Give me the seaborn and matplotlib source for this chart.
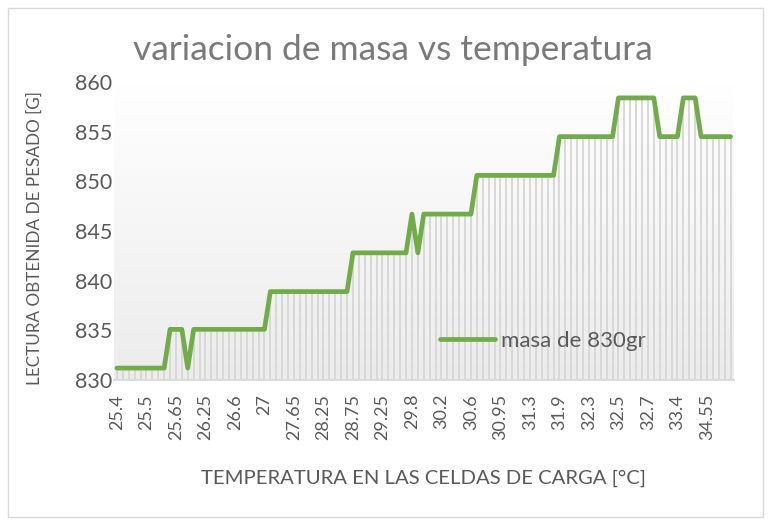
import numpy as np
import matplotlib
matplotlib.use("Agg")
import matplotlib.pyplot as plt
import seaborn as sns
from matplotlib.patches import Rectangle

# Load-cell reading (g) for each temperature sample
masa = [
    831.2, 831.2, 831.2, 831.2, 831.2, 831.2, 831.2, 831.2, 831.2,
    835.1, 835.1, 835.1,
    831.2,
    835.1, 835.1, 835.1, 835.1, 835.1, 835.1, 835.1, 835.1, 835.1, 835.1, 835.1, 835.1, 835.1,
    838.9, 838.9, 838.9, 838.9, 838.9, 838.9, 838.9, 838.9, 838.9, 838.9, 838.9, 838.9, 838.9, 838.9,
    842.8, 842.8, 842.8, 842.8, 842.8, 842.8, 842.8, 842.8, 842.8, 842.8,
    846.7,
    842.8,
    846.7, 846.7, 846.7, 846.7, 846.7, 846.7, 846.7, 846.7, 846.7,
    850.6, 850.6, 850.6, 850.6, 850.6, 850.6, 850.6, 850.6, 850.6, 850.6, 850.6, 850.6, 850.6, 850.6,
    854.5, 854.5, 854.5, 854.5, 854.5, 854.5, 854.5, 854.5, 854.5, 854.5,
    858.4, 858.4, 858.4, 858.4, 858.4, 858.4, 858.4,
    854.5, 854.5, 854.5, 854.5,
    858.4, 858.4, 858.4,
    854.5, 854.5, 854.5, 854.5, 854.5, 854.5,
]

# Temperature labels shown on the category axis (every fifth sample)
temp_labels = ["25.4", "25.5", "25.65", "26.25", "26.6", "27", "27.65", "28.25",
               "28.75", "29.25", "29.8", "30.2", "30.6", "30.95", "31.3", "31.9",
               "32.3", "32.5", "32.7", "33.4", "34.55"]
label_step = 5

y_ticks = [830, 835, 840, 845, 850, 855, 860]

sns.set_theme(style="white")
FONT = ["Lato", "DejaVu Sans"]
plt.rcParams["font.family"] = FONT

GREEN = "#70ad47"
TXT = "#595959"

pos = np.arange(len(masa))
df = {"pos": pos, "masa": masa}

W, H = 771, 525
fig = plt.figure(figsize=(W / 100, H / 100), dpi=100)
ax = fig.add_axes([114 / W, 1 - 380 / H, 619.5 / W, 298 / H])

# chart border
fig.patches.append(Rectangle((8 / W, 8 / H), 755 / W, 509 / H,
                             transform=fig.transFigure, fill=False,
                             edgecolor="#d9d9d9", lw=1.0))

x0, x1 = -0.5, len(masa) - 0.5
ax.set_xlim(x0, x1)
ax.set_ylim(830, 860)

# plot-area gradient (white at top, light grey at bottom)
grad = np.linspace(1.0, 0.0, 256).reshape(-1, 1)
cmap = matplotlib.colors.LinearSegmentedColormap.from_list("bg", ["#ececec", "#ffffff"])
ax.imshow(grad, cmap=cmap, aspect="auto", extent=(x0, x1, 830, 860),
          origin="upper", zorder=0, vmin=0, vmax=1)

# vertical stripe fill under the series
ax.vlines(pos, 830, masa, color="#d6d6d6", lw=1.3, zorder=1)

sns.lineplot(data=df, x="pos", y="masa", ax=ax, color=GREEN, lw=3.4,
             label="masa de 830gr", zorder=3)

for s in ["top", "right", "left"]:
    ax.spines[s].set_visible(False)
ax.spines["bottom"].set_color("#d9d9d9")
ax.spines["bottom"].set_linewidth(1.3)

ax.set_yticks(y_ticks)
ax.set_yticklabels([str(v) for v in y_ticks], fontsize=15.5, color=TXT)
ax.set_xticks(pos[::label_step])
ax.set_xticklabels(temp_labels, rotation=90, fontsize=13, color=TXT)
ax.tick_params(axis="y", length=0, pad=1)
ax.tick_params(axis="x", length=0, pad=10)
ax.set_xlabel("")
ax.set_ylabel("")

fig.text(423 / W, 1 - 478 / H, "TEMPERATURA EN LAS CELDAS DE CARGA [°C]",
         ha="center", va="center", fontsize=14.6, color=TXT)
fig.text(35 / W, 1 - 238 / H, "LECTURA OBTENIDA DE PESADO [G]", rotation=90,
         ha="center", va="center", fontsize=12.3, color=TXT)

fig.text(393 / W, 1 - 50 / H, "variacion de masa vs temperatura", ha="center",
         va="center", fontsize=25.5, color="#7a7a7a")

leg = ax.legend(loc="center left", bbox_to_anchor=(0.526, 0.131), frameon=False,
                fontsize=16, handlelength=2.5, handletextpad=0.25,
                borderpad=0, borderaxespad=0)
for t in leg.get_texts():
    t.set_color(TXT)

fig.savefig("out.png", dpi=100)
